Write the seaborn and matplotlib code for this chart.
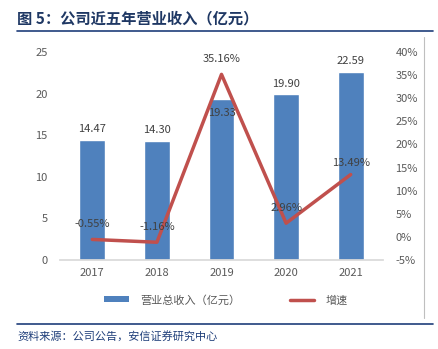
import matplotlib
matplotlib.use("Agg")
import matplotlib.pyplot as plt
import seaborn as sns
import numpy as np
import pandas as pd
from matplotlib.lines import Line2D
from matplotlib.patches import Patch

years = ["2017", "2018", "2019", "2020", "2021"]
revenue = [14.47, 14.30, 19.33, 19.90, 22.59]
growth = [-0.55, -1.16, 35.16, 2.96, 13.49]
left_ticks = [0, 5, 10, 15, 20, 25]
right_ticks = [-5, 0, 5, 10, 15, 20, 25, 30, 35, 40]

sns.set_theme(style="white")
plt.rcParams['font.family'] = ['Noto Sans CJK SC', 'DejaVu Sans']

BLUE = "#4F81BD"
RED = "#C0504D"
GRAY = "#595959"

fig = plt.figure(figsize=(4.38, 3.49), dpi=100)
W, H = 438, 349
ax = fig.add_axes([60 / W, 1 - 260 / H, (383 - 60) / W, (260 - 52) / H])

df = pd.DataFrame({"year": years, "revenue": revenue, "growth": growth})
sns.barplot(data=df, x="year", y="revenue", color=BLUE, width=0.4,
            saturation=1, ax=ax)
ax.set_ylim(0, 25)
ax.set_yticks(left_ticks)
ax.set_xlabel("")
ax.set_ylabel("")
for s in ["top", "right", "left"]:
    ax.spines[s].set_visible(False)
ax.spines["bottom"].set_color("#D9D9D9")
ax.tick_params(axis="both", colors=GRAY, labelsize=8, length=0)
ax.tick_params(axis="y", pad=9)
ax.tick_params(axis="x", pad=6)

for i, v in enumerate(revenue):
    if years[i] == "2019":
        ax.text(i, v - 2.3, f"{v:.2f}", ha="center", va="bottom", fontsize=8, color="#404040")
    else:
        ax.text(i, v + 0.7, f"{v:.2f}", ha="center", va="bottom", fontsize=8, color="#404040")

ax2 = ax.twinx()
pos = np.arange(len(years))
sns.lineplot(x=pos, y=growth, color=RED, linewidth=2.5, ax=ax2)
ax2.set_ylim(-5, 40)
ax2.set_yticks(right_ticks)
ax2.set_yticklabels([f"{t}%" for t in right_ticks])
for s in ["top", "right", "left", "bottom"]:
    ax2.spines[s].set_visible(False)
ax2.tick_params(axis="y", colors=GRAY, labelsize=8, length=0, pad=9)
ax.set_xlim(-0.5, 4.5)

offs = [(0, 2.2), (0, 2.2), (0, 2.2), (0, 2.2), (0, 1.5)]
for i, g in enumerate(growth):
    dx, dy = offs[i]
    ax2.text(i + dx, g + dy, f"{g:.2f}%", ha="center", va="bottom", fontsize=8, color="#404040")

# legend
handles = [Patch(facecolor=BLUE, edgecolor="none"),
           Line2D([0], [0], color=RED, linewidth=2.5)]
fig.legend(handles, ["营业总收入（亿元）", "增速"], loc="center",
           bbox_to_anchor=(226 / W, 1 - 300 / H), ncol=2, frameon=False,
           fontsize=8, labelcolor=GRAY, handlelength=2.2, handleheight=0.45,
           columnspacing=4.5, handletextpad=1.0)

# title and rules
fig.text(17 / W, 1 - 18 / H, "图 5：公司近五年营业收入（亿元）", fontsize=11,
         fontweight="bold", color="#1F3864", va="center", ha="left")
fig.add_artist(Line2D([17 / W, 433 / W], [1 - 31 / H, 1 - 31 / H], color="#1F3E7A", linewidth=1.2))
fig.add_artist(Line2D([17 / W, 433 / W], [1 - 324 / H, 1 - 324 / H], color="#1F3E7A", linewidth=1.2))
fig.add_artist(Line2D([424 / W, 424 / W], [1 - 37 / H, 1 - 318 / H], color="#BFBFBF", linewidth=0.8))
fig.text(17 / W, 1 - 336 / H, "资料来源：公司公告，安信证券研究中心", fontsize=8,
         color="#1F3E7A", va="center", ha="left", style="italic")

fig.savefig("out.png", dpi=100)
